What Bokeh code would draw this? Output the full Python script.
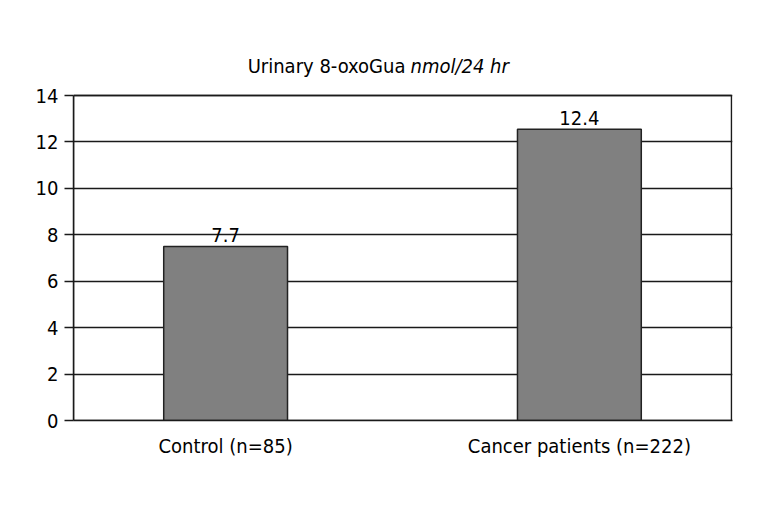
from bokeh.plotting import figure
from bokeh.models import Range1d, FixedTicker, Label, ColumnDataSource, BoxAnnotation
from bokeh.core.properties import value
from bokeh.embed import file_html
from bokeh.resources import INLINE

categories = ["Control (n=85)", "Cancer patients (n=222)"]
bar_values = [7.5, 12.55]
bar_labels = ["7.7", "12.4"]
y_ticks = [0, 2, 4, 6, 8, 10, 12, 14]
title_plain = "Urinary 8-oxoGua"
title_italic = "nmol/24 hr"

FONT = "DejaVu Sans Condensed"

xs = [i + 0.5 for i in range(len(categories))]
src = ColumnDataSource(dict(x=xs, top=bar_values, label=bar_labels))

Y_MAX = y_ticks[-1]
FRAME_TOP = 47        # px of canvas where the drawing area starts
AXIS_TOP = 95         # px of canvas where value 14 sits
AXIS_BOTTOM = 420     # px of canvas where value 0 sits
px_per_unit = (AXIS_BOTTOM - AXIS_TOP) / Y_MAX
y_end = Y_MAX + (AXIS_TOP - FRAME_TOP) / px_per_unit

X_START, X_END = 0.07, 1.93
FRAME_LEFT, BOX_RIGHT = 73, 731
px_per_x = (BOX_RIGHT - FRAME_LEFT) / (X_END - X_START)
PAD_RIGHT_PX = 1
x_end_range = X_END + PAD_RIGHT_PX / px_per_x

W, H = 755, 498
p = figure(width=W, height=H, output_backend="svg", toolbar_location=None,
           x_range=Range1d(X_START, x_end_range), y_range=Range1d(0, y_end),
           min_border_left=FRAME_LEFT, min_border_right=W - BOX_RIGHT - PAD_RIGHT_PX,
           min_border_top=FRAME_TOP, min_border_bottom=H - AXIS_BOTTOM)
p.background_fill_color = "white"
p.border_fill_color = "white"
p.outline_line_color = None

p.xgrid.visible = False
p.ygrid.ticker = FixedTicker(ticks=y_ticks)
p.ygrid.grid_line_color = "#1a1a1a"
p.ygrid.grid_line_width = 1.5

frame_box = BoxAnnotation(bottom=0, top=Y_MAX, right=X_END, fill_color=None, fill_alpha=0,
                          line_color="#1a1a1a", line_alpha=1.0, line_width=1.5,
                          level="underlay")
p.add_layout(frame_box)

p.vbar(x="x", top="top", width=0.35, bottom=0, source=src,
       fill_color="#808080", line_color="#222222", line_width=1.5)
p.text(x="x", y="top", text="label", source=src, text_align="center",
       text_baseline="bottom", y_offset=-4, text_font=value(FONT),
       text_font_size="20px", text_color="black")

p.yaxis.ticker = FixedTicker(ticks=y_ticks)
p.yaxis.bounds = (0, Y_MAX)
p.yaxis.minor_tick_line_color = None
p.yaxis.major_tick_in = 0
p.yaxis.major_tick_out = 9
p.yaxis.major_tick_line_color = "#1a1a1a"
p.yaxis.major_tick_line_width = 1.5
p.yaxis.axis_line_color = "#1a1a1a"
p.yaxis.axis_line_width = 1.5
p.yaxis.major_label_text_font = FONT
p.yaxis.major_label_text_font_size = "20px"
p.yaxis.major_label_text_color = "black"
p.yaxis.major_label_standoff = 6

p.xaxis.ticker = FixedTicker(ticks=xs)
p.xaxis.major_label_overrides = {x: c for x, c in zip(xs, categories)}
p.xaxis.major_tick_line_color = None
p.xaxis.minor_tick_line_color = None
p.xaxis.axis_line_color = "#1a1a1a"
p.xaxis.axis_line_width = 1.5
p.xaxis.major_label_text_font = FONT
p.xaxis.major_label_text_font_size = "20px"
p.xaxis.major_label_text_color = "black"
p.xaxis.major_label_standoff = 7

title_main = Label(x=X_START + (405 - FRAME_LEFT) / px_per_x, y=Y_MAX, y_offset=30,
                   text=title_plain, text_font=FONT, text_font_size="20px",
                   text_color="black", text_align="right", text_baseline="alphabetic")
title_unit = Label(x=X_START + (410 - FRAME_LEFT) / px_per_x, y=Y_MAX, y_offset=30,
                   text=title_italic, text_font=FONT, text_font_size="20px",
                   text_font_style="italic", text_color="black",
                   text_align="left", text_baseline="alphabetic")
p.add_layout(title_main)
p.add_layout(title_unit)

open("out.html", "w").write(file_html(p, INLINE))
